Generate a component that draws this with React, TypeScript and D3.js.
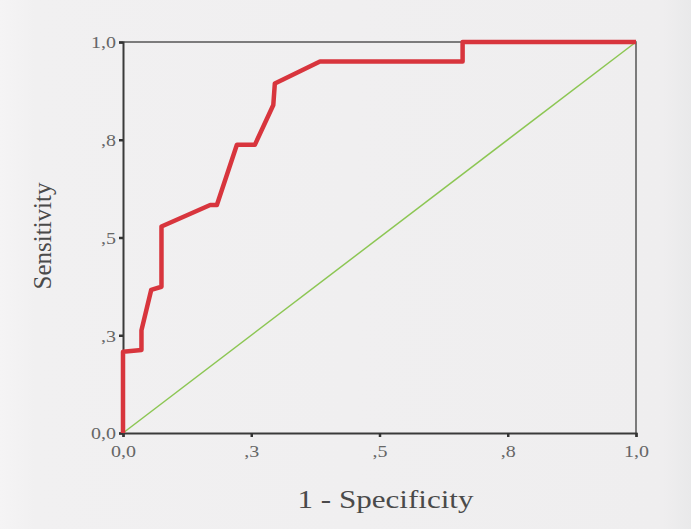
import { useEffect, useRef } from "react";
import * as d3 from "d3";

// ROC curve points
const fpr = [0, 0, 0.036, 0.036, 0.055, 0.075, 0.075, 0.17, 0.183, 0.222, 0.257, 0.293, 0.296, 0.384, 0.662, 0.662, 1];
const tpr = [0, 0.208, 0.212, 0.263, 0.366, 0.374, 0.528, 0.583, 0.583, 0.737, 0.737, 0.839, 0.894, 0.95, 0.95, 1, 1];

const tickValues = [0, 0.25, 0.5, 0.75, 1];
const tickLabels = ["0,0", ",3", ",5", ",8", "1,0"];

const W = 691,
  H = 529;
const margin = { top: 42, right: 55, bottom: 96, left: 123 };
const width = W - margin.left - margin.right,
  height = H - margin.top - margin.bottom;
const serif = "Liberation Serif, Times New Roman, serif";

function App() {
  const svgRef = useRef(null);

  const buildSVG = () => {
    const root = d3.select(svgRef.current);
    root.selectAll("*").remove();
    root.attr("width", W).attr("height", H);

    const grad = root
      .append("defs")
      .append("linearGradient")
      .attr("id", "bg")
      .attr("x1", "0")
      .attr("x2", "1")
      .attr("y1", "0")
      .attr("y2", "0");
    grad.append("stop").attr("offset", "0").attr("stop-color", "#f5f4f5");
    grad.append("stop").attr("offset", "0.05").attr("stop-color", "#f1f0f1");
    grad.append("stop").attr("offset", "0.96").attr("stop-color", "#efeeef");
    grad.append("stop").attr("offset", "1").attr("stop-color", "#e9e9ea");
    root.append("rect").attr("width", W).attr("height", H).attr("fill", "url(#bg)");

    const svg = root
      .append("g")
      .attr("transform", "translate(" + margin.left + "," + margin.top + ")");

    const x = d3.scaleLinear().domain([0, 1]).range([0, width]);
    const y = d3.scaleLinear().domain([0, 1]).range([height, 0]);

    // frame (top and right)
    svg
      .append("path")
      .attr("d", `M${x(0)},${y(1)}H${x(1)}V${y(0)}`)
      .attr("fill", "none")
      .attr("stroke", "#555")
      .attr("stroke-width", 1.5);

    // reference diagonal
    svg
      .append("line")
      .attr("x1", x(0))
      .attr("y1", y(0))
      .attr("x2", x(1))
      .attr("y2", y(1))
      .attr("stroke", "#8cc653")
      .attr("stroke-width", 1.5);

    const xAxis = d3
      .axisBottom(x)
      .tickValues(tickValues)
      .tickFormat((d, i) => tickLabels[i])
      .tickSize(4)
      .tickPadding(6);
    const yAxis = d3
      .axisLeft(y)
      .tickValues(tickValues)
      .tickFormat((d, i) => tickLabels[i])
      .tickSize(4)
      .tickPadding(6);

    const gx = svg
      .append("g")
      .attr("transform", "translate(0," + height + ")")
      .call(xAxis);
    const gy = svg.append("g").call(yAxis);

    [gx, gy].forEach((g) => {
      g.attr("font-family", serif).attr("font-size", 16);
      g.select(".domain").attr("stroke", "#3a3a3a").attr("stroke-width", 2);
      g.selectAll(".tick line").attr("stroke", "#333").attr("stroke-width", 2.5);
      g.selectAll(".tick text").attr("fill", "#666");
    });
    gx.selectAll(".tick text").attr("transform", "scale(1.25,1)").attr("dy", "0.9em");
    gy.selectAll(".tick text").attr("transform", "scale(1.25,1)").attr("x", -7 / 1.25).attr("dy", "0.36em");

    // ROC curve
    const line = d3
      .line<number>()
      .x((d, i) => x(fpr[i]))
      .y((d) => y(d));
    svg
      .append("path")
      .datum(tpr)
      .attr("d", line)
      .attr("fill", "none")
      .attr("stroke", "#d8353d")
      .attr("stroke-width", 4.5)
      .attr("stroke-linejoin", "round");

    // axis titles
    svg
      .append("text")
      .attr("x", x(0.5) + 6)
      .attr("y", height + 75)
      .attr("text-anchor", "middle")
      .attr("fill", "#4a4a4a")
      .attr("textLength", 176)
      .attr("lengthAdjust", "spacingAndGlyphs")
      .attr("font-family", serif)
      .attr("font-size", 25)
      .text("1 - Specificity");

    svg
      .append("text")
      .attr("transform", `translate(${51 - margin.left},${236 - margin.top}) rotate(-90)`)
      .attr("text-anchor", "middle")
      .attr("fill", "#4a4a4a")
      .attr("font-family", serif)
      .attr("font-size", 25)
      .text("Sensitivity");
  };

  useEffect(buildSVG, []);

  return <svg ref={svgRef} style={{ position: "absolute", left: 0, top: 0 }}></svg>;
}

export default App;
